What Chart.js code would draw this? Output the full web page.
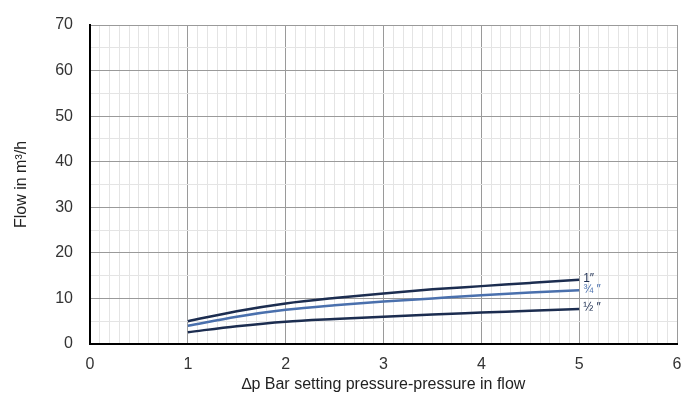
<!DOCTYPE html>
<html>
<head>
<meta charset="utf-8">
<script src="https://cdn.jsdelivr.net/npm/chart.js@4.4.1/dist/chart.umd.min.js"></script>
<style>
  html, body { margin: 0; padding: 0; background: #fff; }
  #wrap { width: 684px; height: 406px; }
</style>
</head>
<body>
<div id="wrap"><canvas id="flowChart"></canvas></div>
<script>
// Δp setting points (bar)
const dpValues = [1, 1.5, 2, 2.5, 3, 3.5, 4, 4.5, 5];
// flow in m3/h per valve size
const flowOne = [5.0, 7.2, 8.9, 10.1, 11.1, 12.0, 12.7, 13.4, 14.1];
const flowThreeQuarter = [4.0, 6.0, 7.5, 8.5, 9.3, 10.0, 10.7, 11.3, 11.8];
const flowHalf = [2.6, 3.9, 4.9, 5.5, 6.0, 6.5, 6.9, 7.3, 7.7];
const seriesNames = ['1″', '¾ ″', '½ ″'];

const navy = '#1c2d50';
const blue = '#4a70ad';

function toPoints(ys) {
  return dpValues.map((x, i) => ({ x: x, y: ys[i] }));
}

function isWhole(v, step) {
  const r = v / step;
  return Math.abs(r - Math.round(r)) < 1e-6;
}

// etiquetas al final de cada curva
const endLabels = {
  id: 'endLabels',
  afterDatasetsDraw(chart) {
    const ctx = chart.ctx;
    ctx.save();
    ctx.font = '12px "Liberation Sans", Arial, sans-serif';
    ctx.textBaseline = 'middle';
    ctx.textAlign = 'left';
    chart.data.datasets.forEach((ds, i) => {
      const meta = chart.getDatasetMeta(i);
      const last = meta.data[meta.data.length - 1];
      ctx.fillStyle = ds.borderColor;
      ctx.fillText(ds.label, last.x + 4, last.y - 1);
    });
    ctx.restore();
  }
};

new Chart(document.getElementById('flowChart'), {
  type: 'line',
  data: {
    datasets: [
      { label: seriesNames[0], data: toPoints(flowOne), borderColor: navy },
      { label: seriesNames[1], data: toPoints(flowThreeQuarter), borderColor: blue },
      { label: seriesNames[2], data: toPoints(flowHalf), borderColor: navy }
    ]
  },
  options: {
    responsive: true,
    maintainAspectRatio: false,
    animation: false,
    layout: { padding: { left: 0, right: 7, top: 25, bottom: 0 } },
    elements: {
      point: { radius: 0 },
      line: { borderWidth: 2.5, cubicInterpolationMode: 'monotone', fill: false }
    },
    scales: {
      x: {
        type: 'linear',
        min: 0,
        max: 6,
        afterFit: (scale) => {
          scale.height = 62;
          scale.paddingLeft = 0;
          scale.paddingRight = 0;
        },
        border: { color: '#000', width: 2 },
        grid: {
          drawTicks: false,
          color: (c) => isWhole(c.tick.value, 1) ? '#9a9a9a' : '#e4e4e4',
          lineWidth: 1
        },
        ticks: {
          stepSize: 0.1,
          autoSkip: false,
          maxRotation: 0,
          padding: 11,
          color: '#333',
          font: { family: '"Liberation Sans", Arial, sans-serif', size: 16 },
          callback: (v) => isWhole(v, 1) ? Math.round(v) : ''
        },
        title: {
          display: true,
          text: '∆p Bar setting pressure-pressure in flow',
          color: '#222',
          padding: { top: 0, bottom: 12 },
          font: { family: '"Liberation Sans", Arial, sans-serif', size: 16 }
        }
      },
      y: {
        min: 0,
        max: 70,
        afterFit: (scale) => {
          scale.width = 90;
          scale.paddingTop = 0;
          scale.paddingBottom = 0;
        },
        border: { color: '#000', width: 2 },
        grid: {
          drawTicks: false,
          color: (c) => isWhole(c.tick.value, 10) ? '#9a9a9a' : '#e4e4e4',
          lineWidth: 1
        },
        ticks: {
          stepSize: 5,
          autoSkip: false,
          padding: 17,
          color: '#333',
          font: { family: '"Liberation Sans", Arial, sans-serif', size: 16 },
          callback: (v) => isWhole(v, 10) ? v : ''
        },
        title: {
          display: true,
          text: 'Flow in m³/h',
          color: '#222',
          padding: { top: 12, bottom: 0 },
          font: { family: '"Liberation Sans", Arial, sans-serif', size: 16 }
        }
      }
    },
    plugins: {
      legend: { display: false },
      tooltip: { enabled: false }
    }
  },
  plugins: [endLabels]
});
</script>
</body>
</html>
